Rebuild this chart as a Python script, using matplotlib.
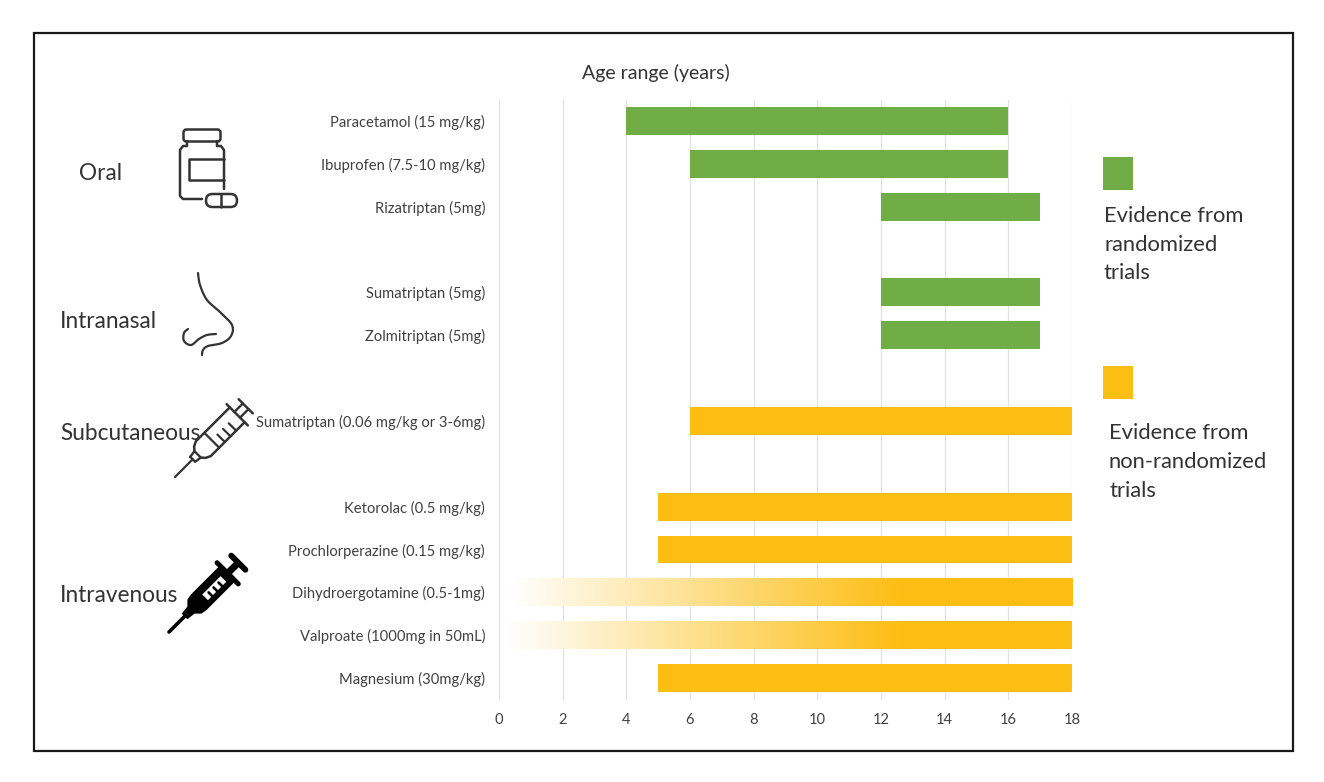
import numpy as np
import matplotlib
matplotlib.use('Agg')
import matplotlib.pyplot as plt
from matplotlib.colors import LinearSegmentedColormap
from matplotlib.patches import Rectangle, FancyBboxPatch, Polygon

plt.rcParams['font.family'] = ['Lato', 'DejaVu Sans']

# rows run top to bottom, '' leaves a gap between routes
drugs = ['Paracetamol (15 mg/kg)', 'Ibuprofen (7.5-10 mg/kg)', 'Rizatriptan (5mg)', '',
         'Sumatriptan (5mg)', 'Zolmitriptan (5mg)', '',
         'Sumatriptan (0.06 mg/kg or 3-6mg)', '',
         'Ketorolac (0.5 mg/kg)', 'Prochlorperazine (0.15 mg/kg)',
         'Dihydroergotamine (0.5-1mg)', 'Valproate (1000mg in 50mL)', 'Magnesium (30mg/kg)']
age_from = [4, 6, 12, None, 12, 12, None, 6, None, 5, 5, 0.3, 0.2, 5]
age_to = [16, 16, 17, None, 17, 17, None, 18, None, 18, 18, 18, 18, 18]
randomized = [1, 1, 1, 0, 1, 1, 0, 0, 0, 0, 0, 0, 0, 0]
faded = ['Dihydroergotamine (0.5-1mg)', 'Valproate (1000mg in 50mL)']
age_ticks = list(range(0, 20, 2))

routes = ['Oral', 'Intranasal', 'Subcutaneous', 'Intravenous']
green = '#70AD47'
yellow = '#FDBE14'
ink = '#333333'
W, H = 1324, 782

fig = plt.figure(figsize=(W / 100, H / 100), dpi=100, facecolor='white')
ax = fig.add_axes([499 / W, 1 - 699.5 / H, 573 / W, 600 / H])

rows = np.arange(len(drugs))
bar_h = 0.65
fade_cmap = LinearSegmentedColormap.from_list('fade', ['#FFFFFF', yellow])
for r, name, a, b, rnd in zip(rows, drugs, age_from, age_to, randomized):
    if a is None:
        continue
    if name in faded:
        # white to solid, reaches full colour around age 12
        grad = np.clip((np.linspace(a, b, 400) - a) / (12.6 - a), 0, 1)[None, :]
        ax.imshow(grad, cmap=fade_cmap, vmin=0, vmax=1, aspect='auto', zorder=3,
                  extent=[a, b, r + bar_h / 2, r - bar_h / 2])
    else:
        ax.barh(r, b - a, left=a, height=bar_h, color=green if rnd else yellow, zorder=3)

ax.set_xlim(0, 18)
ax.set_ylim(len(drugs) - 0.5, -0.5)
ax.set_xticks(age_ticks)
ax.set_yticks(rows)
ax.set_yticklabels(drugs)
ax.grid(axis='x', color='#E2E2E2', lw=0.9)
ax.set_axisbelow(True)
ax.tick_params(length=0, labelsize=10.6, labelcolor='#404040')
ax.tick_params(axis='y', pad=10)
ax.tick_params(axis='x', pad=10)
for s in ax.spines.values():
    s.set_visible(False)

# overlay in pixel units for the frame, icons and free text
ov = fig.add_axes([0, 0, 1, 1], facecolor='none')
ov.set_xlim(0, W)
ov.set_ylim(H, 0)
ov.axis('off')
ov.add_patch(Rectangle((33.5, 32.5), 1259, 718, fill=False, ec='#1a1a1a', lw=1.6))

ov.text(656, 73, 'Age range (years)', ha='center', va='center', fontsize=14, color=ink)
route_pos = [(79, 174), (60, 321), (60, 433), (60, 596)]
for name, (x, y) in zip(routes, route_pos):
    ov.text(x, y, name, ha='left', va='center', fontsize=16.3, color=ink)

ov.add_patch(Rectangle((1103, 157), 30, 33, color=green, lw=0))
ov.add_patch(Rectangle((1103, 366), 30, 33, color=yellow, lw=0))
for i, txt in enumerate(['Evidence from', 'randomized', 'trials']):
    ov.text(1104, 216 + i * 28.7, txt, ha='left', va='center', fontsize=15.8, color=ink)
for i, txt in enumerate(['Evidence from', 'non-randomized', 'trials']):
    ov.text(1109, 433 + i * 29, txt, ha='left', va='center', fontsize=15.8, color=ink)


def line(pts, lw=1.8, c=ink):
    p = np.array(pts, dtype=float)
    ov.plot(p[:, 0], p[:, 1], color=c, lw=lw, solid_capstyle='round', solid_joinstyle='round')


def smooth(pts, lw=1.6):
    # Catmull-Rom through the given points
    p = np.array(pts, dtype=float)
    p = np.vstack([p[0], p, p[-1]])
    out = []
    for i in range(1, len(p) - 2):
        for t in np.linspace(0, 1, 16):
            out.append(0.5 * (2 * p[i] + (p[i + 1] - p[i - 1]) * t
                              + (2 * p[i - 1] - 5 * p[i] + 4 * p[i + 1] - p[i + 2]) * t ** 2
                              + (3 * p[i] - p[i - 1] - 3 * p[i + 1] + p[i + 2]) * t ** 3))
    line(out, lw)


# pill bottle
ov.add_patch(FancyBboxPatch((185, 131), 34, 9, boxstyle='round,pad=1.5,rounding_size=3',
                            fill=False, ec=ink, lw=1.8))
line([(187, 141), (187, 146), (183, 146), (180, 150), (180, 196), (183, 199), (202, 199)])
line([(217, 141), (217, 146), (221, 146), (224, 150), (224, 189)])
line([(224, 159), (189, 159), (189, 180), (224, 180)])
ov.add_patch(FancyBboxPatch((206, 194), 31, 13, boxstyle='round,pad=0,rounding_size=6.5',
                            fc='white', ec=ink, lw=1.8))
line([(221, 194), (221, 207)])

# nose
smooth([(198, 273), (200, 285), (207, 300), (220, 312), (232, 325), (231, 336), (222, 343),
        (208, 346), (203, 350), (202, 355)])
smooth([(216, 334), (207, 335), (199, 339), (191, 345), (184, 341), (184, 333), (188, 329)])


def syringe_xy(tip, u, v):
    # u runs along the needle, v across it, both in pixels at 45 degrees
    d = np.array([1, -1]) / np.sqrt(2)
    n = np.array([1, 1]) / np.sqrt(2)
    return np.array(tip) + u * d + v * n


# subcutaneous syringe, outlined
t1 = (175, 477)
s1 = lambda u, v: syringe_xy(t1, u, v)
line([s1(0, 0), s1(25, 0)], 1.6)
line([s1(25, -3.5), s1(25, 3.5), s1(32, 4.5), s1(32, -4.5), s1(25, -3.5)], 1.7)
line([s1(32, -4.5), s1(35, -8), s1(40, -10.5), s1(88, -10.5)], 1.8)
line([s1(32, 4.5), s1(35, 8), s1(40, 10.5), s1(88, 10.5)], 1.8)
line([s1(88, -15), s1(88, 15)], 1.8)
line([s1(88, -4), s1(100, -4)], 1.7)
line([s1(88, 4), s1(100, 4)], 1.7)
line([s1(100, -10), s1(100, 10)], 1.8)
line([s1(52, -10.5), s1(52, 10.5)], 1.6)
for u in [60, 68, 76]:
    line([s1(u, 10.5), s1(u, 0)], 1.6)

# intravenous syringe, filled
t2 = (169, 632)
s2 = lambda u, v: syringe_xy(t2, u, v)
line([s2(0, 0), s2(26, 0)], 2.6, 'black')
ov.add_patch(Polygon([s2(22, -4), s2(31, -5), s2(36, -10), s2(42, -11), s2(84, -11), s2(84, 11),
                      s2(42, 11), s2(36, 10), s2(31, 5), s2(22, 4)], color='black', lw=0))
line([s2(83, -15), s2(83, 15)], 3.6, 'black')
ov.add_patch(Polygon([s2(82, -3.5), s2(98, -3.5), s2(98, 3.5), s2(82, 3.5)], color='black', lw=0))
line([s2(98, -10), s2(98, 10)], 4.2, 'black')
ov.add_patch(Polygon([s2(50, -3), s2(76, -3), s2(76, 5), s2(50, 5)], color='white', lw=0))
for u in [56, 63, 70]:
    line([s2(u, 5), s2(u, 0)], 1.9, 'black')

fig.savefig('out.png', dpi=100)
